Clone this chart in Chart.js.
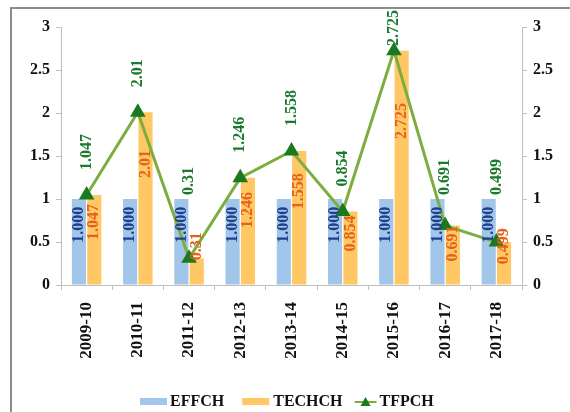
<!DOCTYPE html>
<html><head><meta charset="utf-8">
<script src="https://cdn.jsdelivr.net/npm/chart.js@4"></script>
<style>
html,body{margin:0;padding:0;background:#fff;overflow:hidden;width:570px;height:412px}
#frame{position:absolute;left:10px;top:7px;width:600px;height:450px;border:2px solid #8c8c8c;box-sizing:border-box}
#wrap{position:absolute;left:0;top:0;width:570px;height:412px}
</style></head><body>
<div id="frame"></div>
<div id="wrap"><canvas id="c" width="570" height="412"></canvas></div>
<script>
const categories = ['2009-10','2010-11','2011-12','2012-13','2013-14','2014-15','2015-16','2016-17','2017-18'];
const effch  = [1.000, 1.000, 1.000, 1.000, 1.000, 1.000, 1.000, 1.000, 1.000];
const techch = [1.047, 2.01, 0.31, 1.246, 1.558, 0.854, 2.725, 0.691, 0.499];
const tfpch  = [1.047, 2.01, 0.31, 1.246, 1.558, 0.854, 2.725, 0.691, 0.499];
const seriesNames = ['EFFCH','TECHCH','TFPCH'];
const yMin = 0, yMax = 3, yStep = 0.5;

const FONT = 'Liberation Serif';
const C_BLUE = '#a2c6e9', C_ORANGE = '#ffc864', C_LINE = '#7cad3e', C_MARK = '#1b7a1f';
const C_LBL_BLUE = '#1f3f8f', C_LBL_ORANGE = '#e5621c', C_LBL_GREEN = '#1b7a2e';

const labelPlugin = {
  id: 'valueLabels',
  afterDatasetsDraw(chart) {
    const ctx = chart.ctx;
    const ys = chart.scales.y;
    ctx.save();
    ctx.font = 'bold 16px "' + FONT + '"';
    // bar labels
    [[0, C_LBL_BLUE, v => v.toFixed(3)], [1, C_LBL_ORANGE, v => String(v)]].forEach(([di, col, fmt]) => {
      const meta = chart.getDatasetMeta(di);
      const data = chart.data.datasets[di].data;
      meta.data.forEach((el, i) => {
        const v = data[i];
        const yc = ys.getPixelForValue(Math.max(0.7 * v, 0.45));
        ctx.save();
        ctx.translate(el.x, yc);
        ctx.rotate(-Math.PI / 2);
        ctx.textAlign = 'center';
        ctx.textBaseline = 'middle';
        ctx.fillStyle = col;
        ctx.fillText(fmt(v), 0, 0);
        ctx.restore();
      });
    });
    // line labels
    const lm = chart.getDatasetMeta(2);
    const ld = chart.data.datasets[2].data;
    lm.data.forEach((el, i) => {
      const txt = String(ld[i]);
      const w = ctx.measureText(txt).width;
      let bottom = Math.min(el.y - 25, ys.getPixelForValue(1) - 4);
      if (bottom - w < 10) bottom = 10 + w;
      ctx.save();
      ctx.translate(el.x, bottom);
      ctx.rotate(-Math.PI / 2);
      ctx.textAlign = 'left';
      ctx.textBaseline = 'middle';
      ctx.fillStyle = C_LBL_GREEN;
      ctx.fillText(txt, 0, 0);
      ctx.restore();
    });
    ctx.restore();
  },
  afterDraw(chart) {
    const ctx = chart.ctx;
    ctx.save();
    ctx.font = 'bold 16px "' + FONT + '"';
    ctx.textBaseline = 'middle';
    ctx.fillStyle = '#111';
    const y = 402;
    let x = 140;
    ctx.fillStyle = C_BLUE; ctx.fillRect(x, y - 4, 27, 7); x += 30;
    ctx.fillStyle = '#111'; ctx.fillText(seriesNames[0], x, y); x += ctx.measureText(seriesNames[0]).width + 18;
    ctx.fillStyle = C_ORANGE; ctx.fillRect(x, y - 4, 27, 7); x += 31;
    ctx.fillStyle = '#111'; ctx.fillText(seriesNames[1], x, y); x += ctx.measureText(seriesNames[1]).width + 12;
    ctx.strokeStyle = C_LINE; ctx.lineWidth = 2;
    ctx.beginPath(); ctx.moveTo(x, y); ctx.lineTo(x + 22, y); ctx.stroke();
    ctx.fillStyle = C_MARK;
    ctx.beginPath(); ctx.moveTo(x + 11, y - 5); ctx.lineTo(x + 16, y + 4); ctx.lineTo(x + 6, y + 4); ctx.closePath(); ctx.fill();
    x += 25;
    ctx.fillStyle = '#111'; ctx.fillText(seriesNames[2], x, y);
    ctx.restore();
  }
};

const tickFont = { family: FONT, weight: 'bold', size: 16 };
const yScale = (pos, w) => ({
  position: pos, min: yMin, max: yMax,
  ticks: { stepSize: yStep, font: tickFont, color: '#111', padding: 6, callback: v => String(v) },
  grid: { drawOnChartArea: false, drawTicks: true, tickLength: 5, color: '#bfbfbf' },
  border: { display: true, color: '#bfbfbf' },
  afterFit: s => { s.width = w; }
});

new Chart(document.getElementById('c'), {
  data: {
    labels: categories,
    datasets: [
      { type: 'bar', label: seriesNames[0], data: effch, backgroundColor: C_BLUE, yAxisID: 'y', order: 1, categoryPercentage: 0.6, barPercentage: 0.92 },
      { type: 'bar', label: seriesNames[1], data: techch, backgroundColor: C_ORANGE, yAxisID: 'y', order: 1, categoryPercentage: 0.6, barPercentage: 0.92 },
      { type: 'line', label: seriesNames[2], data: tfpch, borderColor: C_LINE, borderWidth: 3, pointStyle: 'triangle', pointRadius: 6, pointBackgroundColor: C_MARK, pointBorderColor: C_MARK, yAxisID: 'y', order: 0, tension: 0 }
    ]
  },
  options: {
    responsive: false,
    animation: false,
    layout: { padding: { top: 27, left: 0, right: 0, bottom: 0 } },
    plugins: { legend: { display: false }, tooltip: { enabled: false } },
    scales: {
      x: {
        offset: true,
        ticks: { minRotation: 90, maxRotation: 90, font: { family: FONT, weight: 'bold', size: 17 }, color: '#111', padding: 12 },
        grid: { drawOnChartArea: false, drawTicks: true, tickLength: 5, color: '#bfbfbf', offset: true },
        border: { display: true, color: '#bfbfbf' },
        afterFit: s => { s.height = 127; }
      },
      y: yScale('left', 61),
      y2: yScale('right', 48)
    }
  },
  plugins: [labelPlugin]
});
</script>
</body></html>
